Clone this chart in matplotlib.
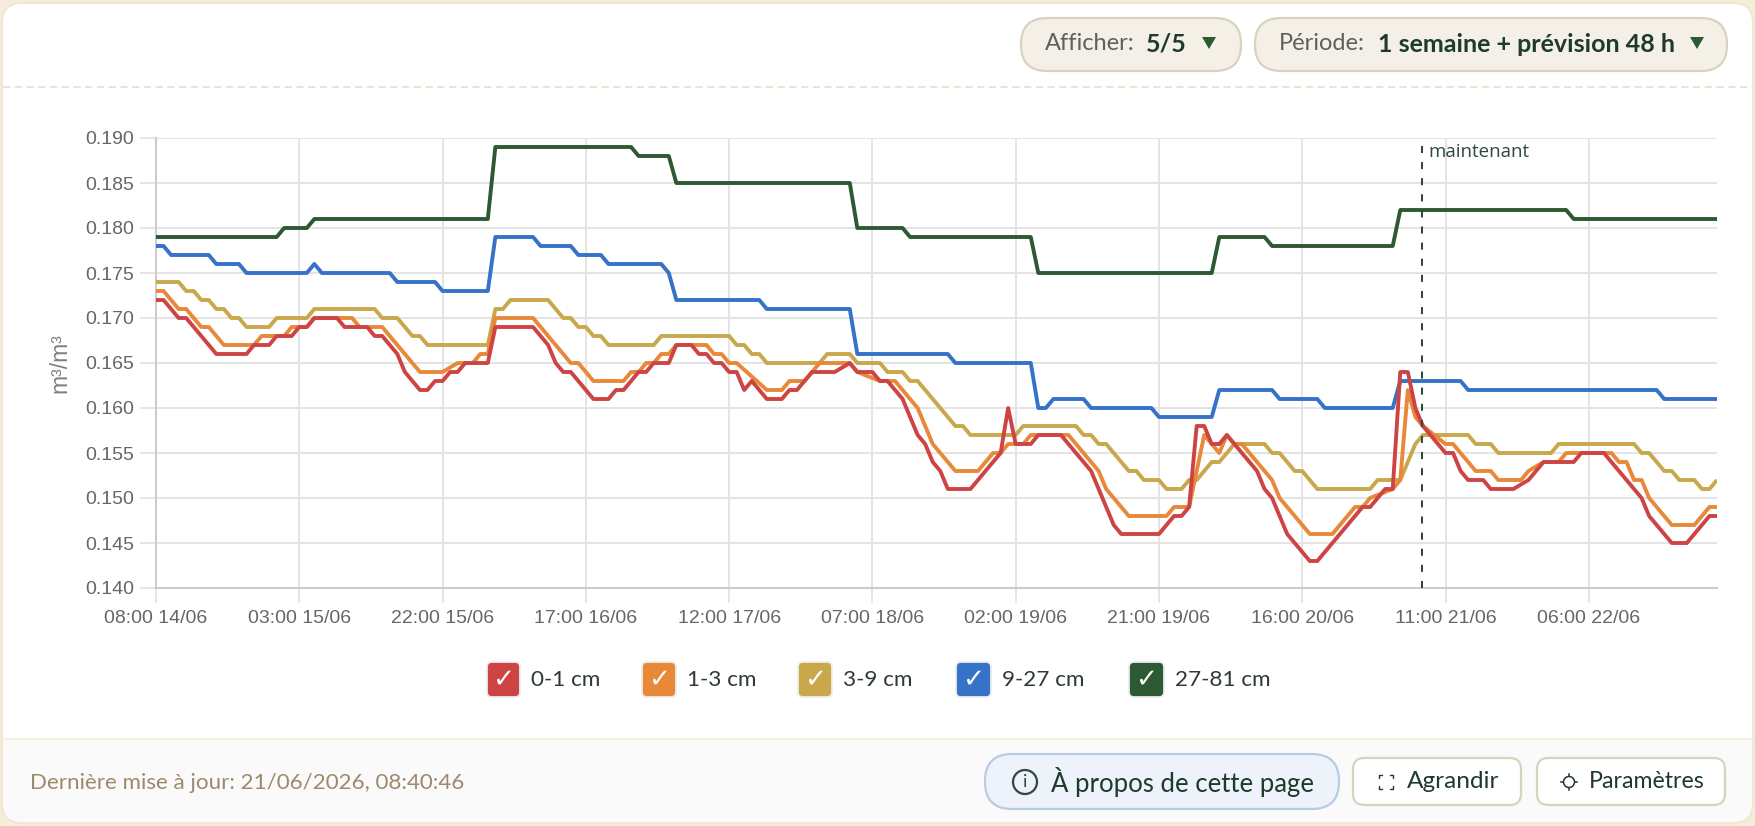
import matplotlib
matplotlib.use("Agg")
import matplotlib.pyplot as plt
from matplotlib.patches import FancyBboxPatch, Circle, Polygon

# ---------- data (hours since 08:00 14/06, value in m3/m3) ----------
labels = ["0-1 cm", "1-3 cm", "3-9 cm", "9-27 cm", "27-81 cm"]
colors = ["#CE4444", "#E8893A", "#C9A84C", "#3672C8", "#2D5A32"]

h_red = [0,1,3,4,5,6,7,8,12,13,15,16,18,19,20,21,24,25,28,29,30,32,33,34,35,36,37,38,39,40,41,44,45,50,51,52,53,54,55,58,60,61,62,64,65,66,68,69,71,72,73,74,75,76,77,78,79,81,83,84,85,87,90,92,93,95,96,97,98,99,101,102,103,104,105,108,112,113,114,116,117,120,124,127,128,133,135,136,137,138,139,140,141,142,146,147,148,150,153,154,160,161,163,164,165,166,167,168,171,172,173,174,176,177,180,182,184,188,189,192,197,198,201,203,206,207]
v_red = [.172,.172,.170,.170,.169,.168,.167,.166,.166,.167,.167,.168,.168,.169,.169,.170,.170,.169,.169,.168,.168,.166,.164,.163,.162,.162,.163,.163,.164,.164,.165,.165,.169,.169,.168,.167,.165,.164,.164,.161,.161,.162,.162,.164,.164,.165,.165,.167,.167,.166,.166,.165,.165,.164,.164,.162,.163,.161,.161,.162,.162,.164,.164,.165,.164,.164,.163,.163,.162,.161,.157,.156,.154,.153,.151,.151,.155,.160,.156,.156,.157,.157,.153,.147,.146,.146,.148,.148,.149,.158,.158,.156,.156,.157,.153,.151,.150,.146,.143,.143,.149,.149,.151,.151,.164,.164,.160,.158,.155,.155,.153,.152,.152,.151,.151,.152,.154,.154,.155,.155,.150,.148,.145,.145,.148,.148]

h_orange = [0,1,3,4,6,7,9,13,14,17,18,20,21,26,27,30,35,38,40,42,43,44,45,50,55,56,58,62,63,64,65,66,67,68,69,73,74,75,76,77,81,83,84,86,87,88,92,93,96,98,100,101,102,103,106,109,111,112,113,115,116,121,125,126,129,134,135,137,139,141,142,143,144,148,149,153,156,159,160,161,164,165,166,167,168,171,172,175,177,178,181,182,184,186,187,193,194,195,196,197,198,201,204,206,207]
v_orange = [.173,.173,.171,.171,.169,.169,.167,.167,.168,.168,.169,.169,.170,.170,.169,.169,.164,.164,.165,.165,.166,.166,.170,.170,.165,.165,.163,.163,.164,.164,.165,.165,.166,.166,.167,.167,.166,.166,.165,.165,.162,.162,.163,.163,.164,.165,.165,.164,.163,.163,.161,.160,.158,.156,.153,.153,.155,.155,.156,.156,.157,.157,.153,.151,.148,.148,.149,.149,.157,.155,.157,.156,.156,.152,.150,.146,.146,.149,.149,.150,.151,.152,.162,.159,.158,.156,.156,.153,.153,.152,.152,.153,.154,.154,.155,.155,.154,.154,.152,.152,.150,.147,.147,.149,.149]

h_tan = [0,3,4,5,6,7,8,9,10,11,12,15,16,20,21,29,30,32,34,35,36,44,45,46,47,52,54,55,56,57,58,59,60,66,67,76,77,78,79,80,81,88,89,92,93,96,97,99,100,101,106,107,108,114,115,122,123,124,125,126,129,130,131,133,134,136,137,138,140,141,143,147,148,149,151,152,154,161,162,165,166,167,168,174,175,177,178,185,186,196,197,198,200,201,202,204,205,206,207]
v_tan = [.174,.174,.173,.173,.172,.172,.171,.171,.170,.170,.169,.169,.170,.170,.171,.171,.170,.170,.168,.168,.167,.167,.171,.171,.172,.172,.170,.170,.169,.169,.168,.168,.167,.167,.168,.168,.167,.167,.166,.166,.165,.165,.166,.166,.165,.165,.164,.164,.163,.163,.158,.158,.157,.157,.158,.158,.157,.157,.156,.156,.153,.153,.152,.152,.151,.151,.152,.152,.154,.154,.156,.156,.155,.155,.153,.153,.151,.151,.152,.152,.154,.156,.157,.157,.156,.156,.155,.155,.156,.156,.155,.155,.153,.153,.152,.152,.151,.151,.152]

h_blue = [0,1,2,7,8,11,12,20,21,22,31,32,37,38,44,45,50,51,55,56,59,60,67,68,69,80,81,92,93,105,106,116,117,118,119,123,124,132,133,140,141,148,149,154,155,164,165,173,174,199,200,207]
v_blue = [.178,.178,.177,.177,.176,.176,.175,.175,.176,.175,.175,.174,.174,.173,.173,.179,.179,.178,.178,.177,.177,.176,.176,.175,.172,.172,.171,.171,.166,.166,.165,.165,.160,.160,.161,.161,.160,.160,.159,.159,.162,.162,.161,.161,.160,.160,.163,.163,.162,.162,.161,.161]

h_green = [0,16,17,20,21,44,45,63,64,68,69,92,93,99,100,116,117,140,141,147,148,164,165,187,188,207]
v_green = [.179,.179,.180,.180,.181,.181,.189,.189,.188,.188,.185,.185,.180,.180,.179,.179,.175,.175,.179,.179,.178,.178,.182,.182,.181,.181]

x_ticks = [0,19,38,57,76,95,114,133,152,171,190]
x_tick_labels = ["08:00 14/06","03:00 15/06","22:00 15/06","17:00 16/06","12:00 17/06","07:00 18/06",
                 "02:00 19/06","21:00 19/06","16:00 20/06","11:00 21/06","06:00 22/06"]
y_ticks = [.140,.145,.150,.155,.160,.165,.170,.175,.180,.185,.190]
now_hour = 167.9

UI = "Lato"
W, H = 1756, 826
fig = plt.figure(figsize=(W/100, H/100), dpi=100, facecolor="#F4EDDA")

# ---------- page furniture, pixel coordinates ----------
bg = fig.add_axes([0, 0, 1, 1], zorder=0)
bg.set_xlim(0, W); bg.set_ylim(H, 0); bg.axis("off")

def box(x0, y0, x1, y1, r, fc, ec, lw=1.5, z=1):
    p = FancyBboxPatch((x0+r, y0+r), x1-x0-2*r, y1-y0-2*r, boxstyle=f"round,pad={r},rounding_size={r}",
                       fc=fc, ec=ec, lw=lw, zorder=z)
    bg.add_patch(p)

box(2, 3, 1753, 823, 20, "white", "#EFE7D2", 1.5, 1)
# footer band
box(3, 600, 1752, 822, 20, "#FAFAFA", "none", 0, 2)
bg.fill_between([3, 1752], 600, 738, color="white", lw=0, zorder=3)
bg.plot([3, 1752], [738.5, 738.5], color="#F3EEE0", lw=1.5, zorder=4)
bg.plot([3, 1752], [87, 87], color="#E8E2CC", lw=1.3, ls=(0, (4, 2.5)), zorder=4)

box(1021, 18, 1241, 71, 26, "#F4F0E8", "#D9D2C0", 1.6, 5)
box(1255, 18, 1727, 71, 26, "#F4F0E8", "#D9D2C0", 1.6, 5)
TXT = "#1E3A2A"
bg.text(1045, 44, "Afficher:", fontsize=17, family=UI, color="#5F5F5F", va="center", zorder=6)
bg.text(1146, 44, "5/5", fontsize=18, family=UI, weight="bold", color=TXT, va="center", zorder=6)
bg.text(1279, 44, "Période:", fontsize=17, family=UI, color="#5F5F5F", va="center", zorder=6)
bg.text(1378, 44, "1 semaine + prévision 48 h", fontsize=18, family=UI, weight="bold", color=TXT, va="center", zorder=6)
for cx in (1209, 1697):
    bg.add_patch(Polygon([(cx-7, 37), (cx+7, 37), (cx, 49)], fc="#2D5A32", ec="none", zorder=6))

bg.text(30, 783, "Dernière mise à jour: 21/06/2026, 08:40:46", fontsize=16.1, family=UI, color="#9C8A6C", va="center", zorder=6)

box(985, 754, 1339, 809, 27, "#EDF2FB", "#B9CBE3", 1.6, 5)
box(1353, 758, 1521, 805, 11, "white", "#D9D2C0", 1.6, 5)
box(1537, 758, 1725, 805, 11, "white", "#D9D2C0", 1.6, 5)
bg.add_patch(Circle((1025, 782), 12, fc="none", ec="#2F4A3A", lw=1.6, zorder=6))
bg.text(1025, 782, "i", fontsize=13, family=UI, color="#2F4A3A", ha="center", va="center", zorder=7)
bg.text(1051, 782, "À propos de cette page", fontsize=18.5, family=UI, color=TXT, va="center", zorder=6)
# expand icon
for sx, sy in ((-1, -1), (1, -1), (-1, 1), (1, 1)):
    cx, cy = 1386 + sx*7, 782 + sy*7
    bg.plot([cx, cx, cx - sx*3], [cy - sy*3, cy, cy], color=TXT, lw=1.0, zorder=6, solid_capstyle="round")
bg.text(1407, 782, "Agrandir", fontsize=17.6, family=UI, color=TXT, va="center", zorder=6)
bg.add_patch(Circle((1569, 782), 5.5, fc="none", ec=TXT, lw=1.1, zorder=6))
for dx, dy in ((0, -7.5), (0, 7.5), (-7.5, 0), (7.5, 0)):
    bg.plot([1569 + dx*.8, 1569 + dx*1.05], [782 + dy*.8, 782 + dy*1.05], color=TXT, lw=1.1, zorder=6)
bg.text(1589, 782, "Paramètres", fontsize=16.7, family=UI, color=TXT, va="center", zorder=6)

# legend
leg_box = [(487, 520), (642, 676), (798, 832), (956, 991), (1129, 1164)]
for (x0, x1), c, lab in zip(leg_box, colors, labels):
    box(x0, 662, x1, 697, 5, c, "#EDEDED", 1.3, 6)
    bg.text((x0+x1)/2, 680, "✓", fontsize=19, family="DejaVu Sans", color="white",
            ha="center", va="center", zorder=7)
    bg.text(x1 + 11, 680, lab, fontsize=16.2, family=UI, color="#2F3A35", va="center", zorder=6)

# ---------- chart ----------
ax = fig.add_axes([156/W, 1-588/H, (1717-156)/W, (588-138)/H], zorder=2)
ax.patch.set_alpha(0)
ax.set_xlim(0, 207)
ax.set_ylim(.140, .190)
for s in ("top", "right"):
    ax.spines[s].set_visible(False)
for s in ("left", "bottom"):
    ax.spines[s].set_color("#CCCCCC"); ax.spines[s].set_linewidth(1.5)
ax.set_xticks(x_ticks, x_tick_labels)
ax.set_yticks(y_ticks, [f"{v:.3f}" for v in y_ticks])
ax.tick_params(axis="both", colors="#E6E6E6", width=1.4, labelcolor="#666666", labelsize=14)
ax.tick_params(axis="x", length=11, pad=5)
ax.tick_params(axis="y", length=11.5, pad=4.3)
for lab in ax.get_xticklabels() + ax.get_yticklabels():
    lab.set_family("Liberation Sans")
ax.grid(True, color="#E4E4E4", lw=1.4, zorder=0)
ax.set_axisbelow(True)
ax.set_ylabel("m³/m³", fontsize=16.5, family="Liberation Sans", color="#808080", labelpad=10)

series = [(h_green, v_green, 4), (h_blue, v_blue, 3), (h_tan, v_tan, 2), (h_orange, v_orange, 1), (h_red, v_red, 0)]
for hs, vs, i in series:
    ax.plot(hs, vs, color=colors[i], lw=2.8, solid_joinstyle="round", solid_capstyle="butt", zorder=3+(4-i)*.1)

ax.axvline(now_hour, color="#2F4A3A", lw=1.45, ls=(0, (3.5, 4.5)), zorder=5)
ax.annotate("maintenant", xy=(now_hour, .190), xytext=(4.5, -10), textcoords="offset points",
            fontsize=13.5, family="Open Sans", color="#2F4A3A", va="center", ha="left")

fig.savefig("out.png", dpi=100, facecolor=fig.get_facecolor())
